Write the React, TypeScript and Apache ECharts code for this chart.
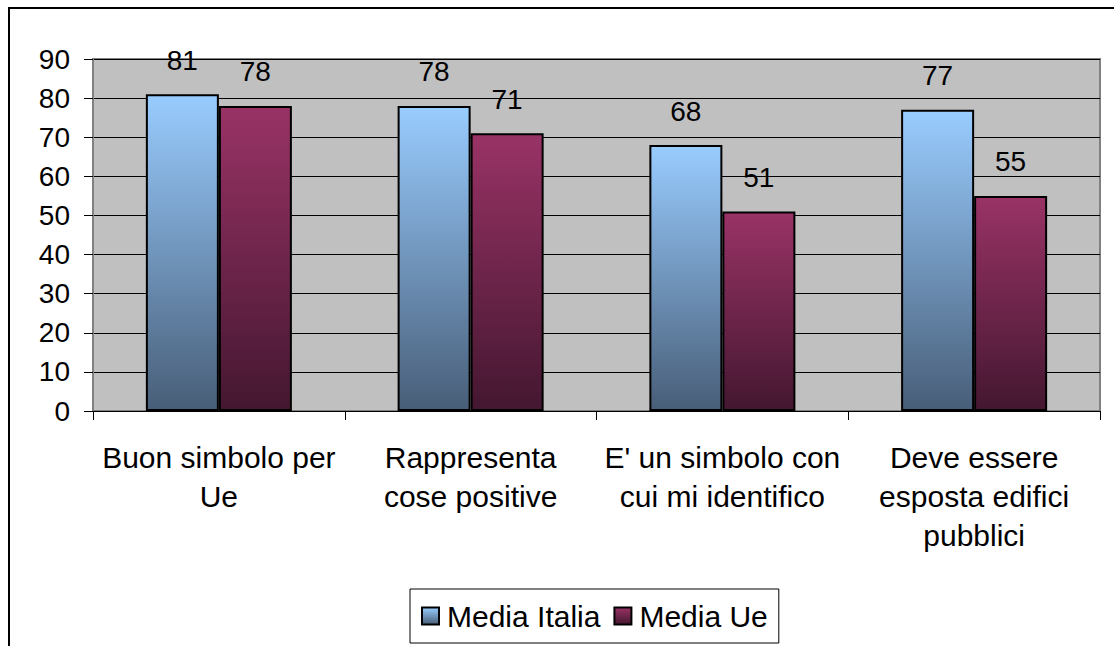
import React, { useEffect, useRef } from "react";
import * as echarts from "echarts";

const categories = [
  "Buon simbolo per\nUe",
  "Rappresenta\ncose positive",
  "E' un simbolo con\ncui mi identifico",
  "Deve essere\nesposta edifici\npubblici",
];
const mediaItalia = [81, 78, 68, 77];
const mediaUe = [78, 71, 51, 55];
const seriesNames = ["Media Italia", "Media Ue"];

const FONT = "'Liberation Sans', Arial, sans-serif";

const blueGrad = new echarts.graphic.LinearGradient(0, 0, 0, 1, [
  { offset: 0, color: "#99CCFF" },
  { offset: 1, color: "#485E78" },
]);
const maroonGrad = new echarts.graphic.LinearGradient(0, 0, 0, 1, [
  { offset: 0, color: "#993366" },
  { offset: 1, color: "#441730" },
]);

export default function App() {
  const ref = useRef<HTMLDivElement>(null);
  useEffect(() => {
    if (!ref.current) return;
    const chart = echarts.init(ref.current, undefined, { renderer: "svg" });
    const label = {
      show: true,
      position: "top",
      distance: 20,
      fontFamily: FONT,
      fontSize: 28,
      color: "#000",
    };
    chart.setOption({
      animation: false,
      backgroundColor: "#fff",
      textStyle: { fontFamily: FONT },
      graphic: [
        {
          type: "rect",
          shape: { x: 9, y: 8, width: 1200, height: 700 },
          style: { fill: "none", stroke: "#000", lineWidth: 2 },
          silent: true,
          z: 100,
        },
      ],
      grid: {
        left: 93,
        right: 14,
        top: 59,
        bottom: 235,
        show: true,
        backgroundColor: "#C0C0C0",
        borderColor: "#808080",
        borderWidth: 2,
      },
      legend: {
        bottom: 3,
        left: 410,
        data: seriesNames,
        icon: "rect",
        itemWidth: 17,
        itemHeight: 17,
        itemGap: 13,
        padding: [12, 11, 12, 11],
        borderColor: "#000",
        borderWidth: 1,
        backgroundColor: "#fff",
        textStyle: { fontFamily: FONT, fontSize: 30, color: "#000", padding: [0, 0, 0, 3] },
      },
      xAxis: {
        type: "category",
        data: categories,
        axisLine: { show: true, lineStyle: { color: "#000", width: 1 } },
        axisTick: { show: true, length: 9, lineStyle: { color: "#000" } },
        axisLabel: {
          fontFamily: FONT,
          fontSize: 30,
          color: "#000",
          margin: 27,
          lineHeight: 39,
          interval: 0,
        },
      },
      yAxis: {
        type: "value",
        min: 0,
        max: 90,
        interval: 10,
        axisLine: { show: true, lineStyle: { color: "#808080", width: 1 } },
        axisTick: { show: true, length: 9, lineStyle: { color: "#000" } },
        splitLine: { show: true, lineStyle: { color: "#000", width: 1 } },
        axisLabel: {
          fontFamily: FONT,
          fontSize: 28,
          color: "#000",
          margin: 23,
        },
      },
      series: [
        {
          name: seriesNames[0],
          type: "bar",
          data: mediaItalia,
          barGap: "0%",
          barCategoryGap: "42%",
          itemStyle: { color: blueGrad, borderColor: "#000", borderWidth: 2 },
          label,
        },
        {
          name: seriesNames[1],
          type: "bar",
          data: mediaUe,
          barGap: "0%",
          barCategoryGap: "42%",
          itemStyle: { color: maroonGrad, borderColor: "#000", borderWidth: 2 },
          label,
        },
      ],
    });
    return () => chart.dispose();
  }, []);
  return (
    <div
      ref={ref}
      style={{ position: "fixed", left: 0, top: 0, width: 1114, height: 646 }}
    />
  );
}
